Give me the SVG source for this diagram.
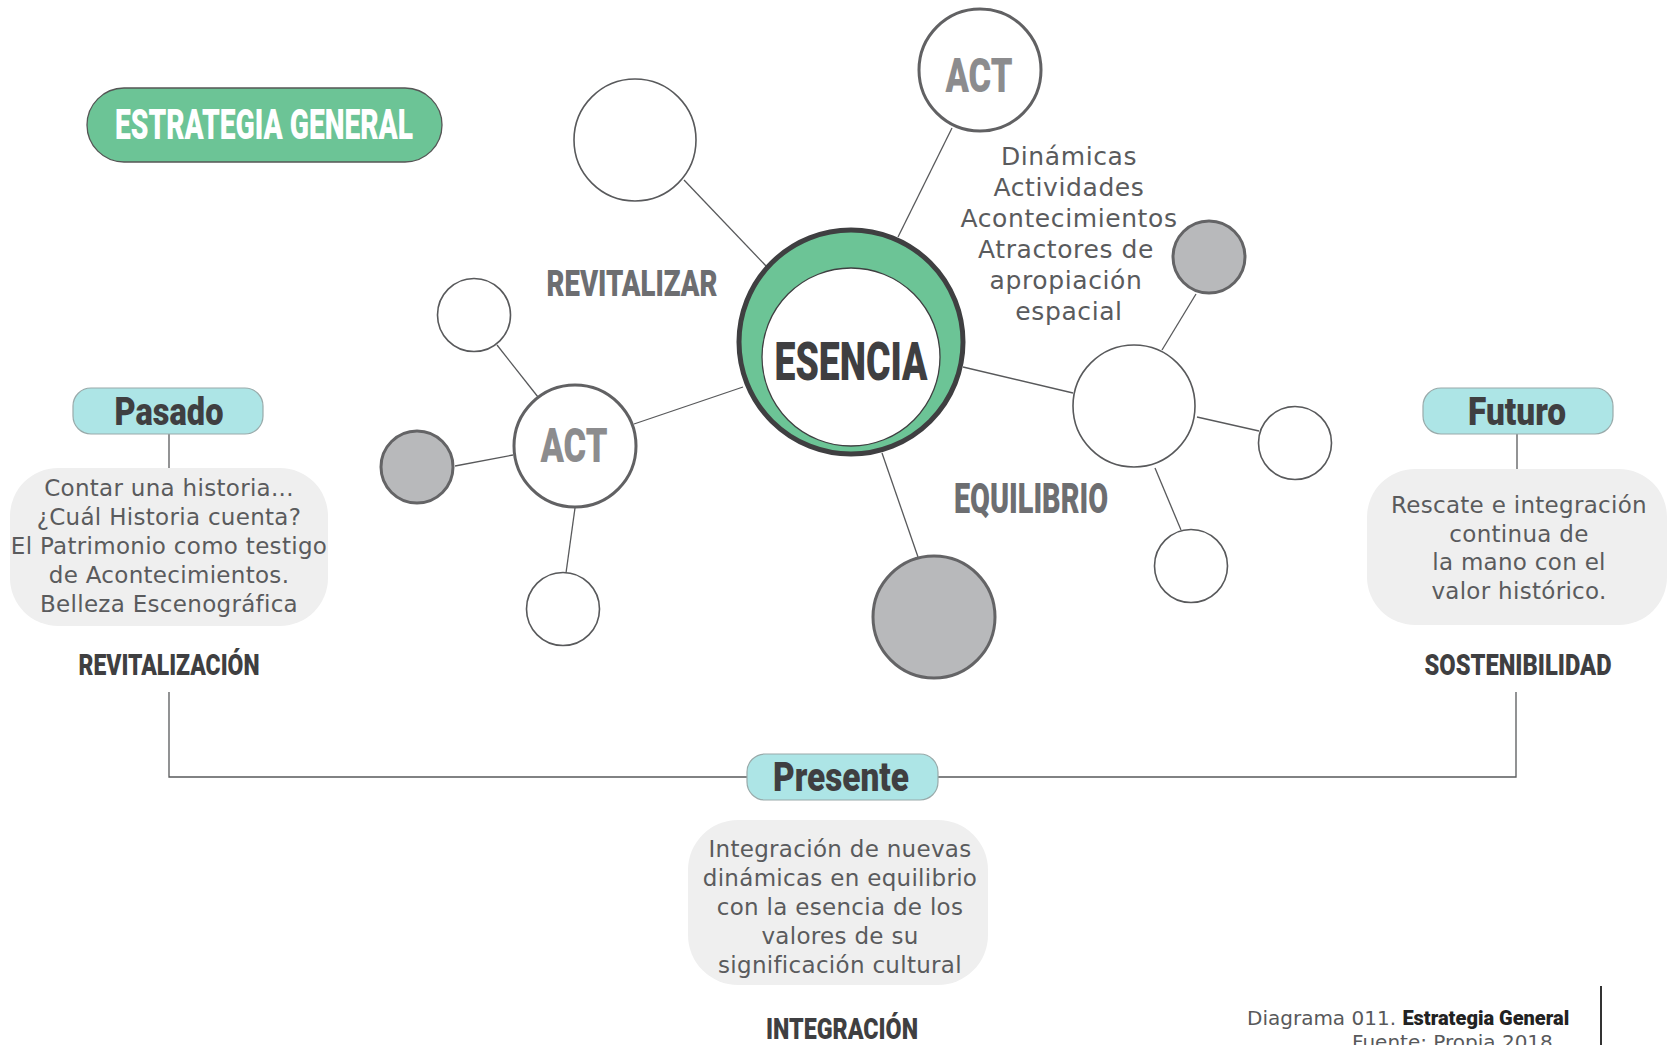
<svg xmlns="http://www.w3.org/2000/svg" width="1667" height="1045" viewBox="0 0 1667 1045">
<style>
.hd{font-family:Roboto,"Liberation Sans",sans-serif;font-weight:900;text-anchor:middle}
.body{font-family:"DejaVu Sans","Liberation Sans",sans-serif;font-size:23px;letter-spacing:0.3px;fill:#5a5b5d;text-anchor:middle}
.big{font-size:25px;letter-spacing:0.6px}
.conn{stroke:#58595b;stroke-width:1.3;fill:none}
.thin{fill:#fff;stroke:#58595b;stroke-width:1.6}
.act{fill:#fff;stroke:#616163;stroke-width:3}
.gray{fill:#b8b9bb;stroke:#646466;stroke-width:3}
.tag{fill:#ade5e6;stroke:#9aa;stroke-width:1.2}
.note{fill:#efefef}
</style>
<rect width="1667" height="1045" fill="#fff"/>
<g id="connectors">
<line class="conn" x1="684" y1="180" x2="767" y2="267"/>
<line class="conn" x1="952" y1="128" x2="898" y2="237"/>
<line class="conn" x1="634" y1="424" x2="743" y2="387"/>
<line class="conn" x1="963" y1="367" x2="1073" y2="393"/>
<line class="conn" x1="882" y1="453" x2="918" y2="557"/>
<line class="conn" x1="497" y1="345" x2="538" y2="397"/>
<line class="conn" x1="455" y1="466" x2="513" y2="455"/>
<line class="conn" x1="575" y1="508" x2="566" y2="573"/>
<line class="conn" x1="1162" y1="350" x2="1196" y2="294"/>
<line class="conn" x1="1197" y1="417" x2="1259" y2="431"/>
<line class="conn" x1="1155" y1="468" x2="1181" y2="530"/>
<line class="conn" x1="169" y1="434" x2="169" y2="468"/>
<line class="conn" x1="1517" y1="434" x2="1517" y2="469"/>
<polyline class="conn" points="169,692 169,777 747,777"/>
<polyline class="conn" points="938,777 1516,777 1516,692"/>
</g>
<g id="estrategia">
<rect x="87" y="88" width="355" height="74" rx="37" fill="#6cc496" stroke="#555" stroke-width="1.3"/>
<text class="hd" x="264" y="139" font-size="42" fill="#fff" textLength="298" lengthAdjust="spacingAndGlyphs">ESTRATEGIA GENERAL</text>
</g>
<g id="esencia">
<circle cx="851" cy="342" r="112" fill="#6cc496" stroke="#3f3f41" stroke-width="5"/>
<circle cx="851" cy="357" r="89" fill="#fff" stroke="#3f3f41" stroke-width="1.3"/>
<text class="hd" x="851" y="380" font-size="53" fill="#3f3f41" textLength="153" lengthAdjust="spacingAndGlyphs">ESENCIA</text>
</g>
<g id="act-top">
<circle class="act" cx="980" cy="70" r="61"/>
<text class="hd" x="979" y="92" font-size="49" fill="#8c8c8e" textLength="67" lengthAdjust="spacingAndGlyphs">ACT</text>
</g>
<g id="circle-topleft"><circle class="thin" cx="635" cy="140" r="61"/></g>
<g id="act-left">
<circle class="act" cx="575" cy="446" r="61"/>
<text class="hd" x="574" y="462" font-size="49" fill="#8c8c8e" textLength="67" lengthAdjust="spacingAndGlyphs">ACT</text>
</g>
<g id="left-small-top"><circle class="thin" cx="474" cy="315" r="36.5"/></g>
<g id="left-gray"><circle class="gray" cx="417" cy="467" r="36"/></g>
<g id="left-small-bottom"><circle class="thin" cx="563" cy="609" r="36.5"/></g>
<g id="right-big"><circle class="thin" cx="1134" cy="406" r="61"/></g>
<g id="right-gray"><circle class="gray" cx="1209" cy="257" r="36"/></g>
<g id="right-small"><circle class="thin" cx="1295" cy="443" r="36.5"/></g>
<g id="right-bottom"><circle class="thin" cx="1191" cy="566" r="36.5"/></g>
<g id="bottom-gray"><circle class="gray" cx="934" cy="617" r="61"/></g>
<g id="labels">
<text class="hd" x="632" y="296" font-size="37" fill="#6d6e71" textLength="171" lengthAdjust="spacingAndGlyphs">REVITALIZAR</text>
<text class="hd" x="1031" y="513" font-size="42" fill="#6d6e71" textLength="154" lengthAdjust="spacingAndGlyphs">EQUILIBRIO</text>
<text class="body big"><tspan x="1069" y="165">Dinámicas</tspan><tspan x="1069" y="196">Actividades</tspan><tspan x="1069" y="227">Acontecimientos</tspan><tspan x="1066" y="258">Atractores de</tspan><tspan x="1066" y="289">apropiación</tspan><tspan x="1069" y="320">espacial</tspan></text>
</g>
<g id="pasado">
<rect class="tag" x="73" y="388" width="190" height="46" rx="18"/>
<text class="hd" x="169" y="425" font-size="39" fill="#3f3f41" textLength="109" lengthAdjust="spacingAndGlyphs">Pasado</text>
<rect class="note" x="10" y="468" width="318" height="158" rx="48"/>
<text class="body"><tspan x="169" y="496">Contar una historia...</tspan><tspan x="169" y="525">¿Cuál Historia cuenta?</tspan><tspan x="169" y="554">El Patrimonio como testigo</tspan><tspan x="169" y="583">de Acontecimientos.</tspan><tspan x="169" y="612">Belleza Escenográfica</tspan></text>
<text class="hd" x="169" y="675" font-size="30" fill="#3f3f41" textLength="181" lengthAdjust="spacingAndGlyphs">REVITALIZACIÓN</text>
</g>
<g id="futuro">
<rect class="tag" x="1423" y="388" width="190" height="46" rx="18"/>
<text class="hd" x="1517" y="425" font-size="39" fill="#3f3f41" textLength="98" lengthAdjust="spacingAndGlyphs">Futuro</text>
<rect class="note" x="1367" y="469" width="300" height="156" rx="48"/>
<text class="body"><tspan x="1519" y="513">Rescate e integración</tspan><tspan x="1519" y="542">continua de</tspan><tspan x="1519" y="570">la mano con el</tspan><tspan x="1519" y="599">valor histórico.</tspan></text>
<text class="hd" x="1518" y="675" font-size="30" fill="#3f3f41" textLength="187" lengthAdjust="spacingAndGlyphs">SOSTENIBILIDAD</text>
</g>
<g id="presente">
<rect class="tag" x="747" y="754" width="191" height="46" rx="18"/>
<text class="hd" x="841" y="791" font-size="40" fill="#3f3f41" textLength="136" lengthAdjust="spacingAndGlyphs">Presente</text>
<rect class="note" x="688" y="820" width="300" height="165" rx="50"/>
<text class="body"><tspan x="840" y="857">Integración de nuevas</tspan><tspan x="840" y="886">dinámicas en equilibrio</tspan><tspan x="840" y="915">con la esencia de los</tspan><tspan x="840" y="944">valores de su</tspan><tspan x="840" y="973">significación cultural</tspan></text>
<text class="hd" x="842" y="1039" font-size="30" fill="#3f3f41" textLength="152" lengthAdjust="spacingAndGlyphs">INTEGRACIÓN</text>
</g>
<g id="footer">
<text x="1247" y="1025" font-family="'DejaVu Sans','Liberation Sans',sans-serif" font-size="20" fill="#58595b">Diagrama 011. <tspan font-family="Roboto,'Liberation Sans',sans-serif" font-weight="900" fill="#222">Estrategia General</tspan></text>
<text x="1352" y="1049" font-family="'DejaVu Sans','Liberation Sans',sans-serif" font-size="20" fill="#58595b">Fuente: Propia 2018</text>
<line x1="1601" y1="986" x2="1601" y2="1045" stroke="#333" stroke-width="2"/>
</g>
</svg>
